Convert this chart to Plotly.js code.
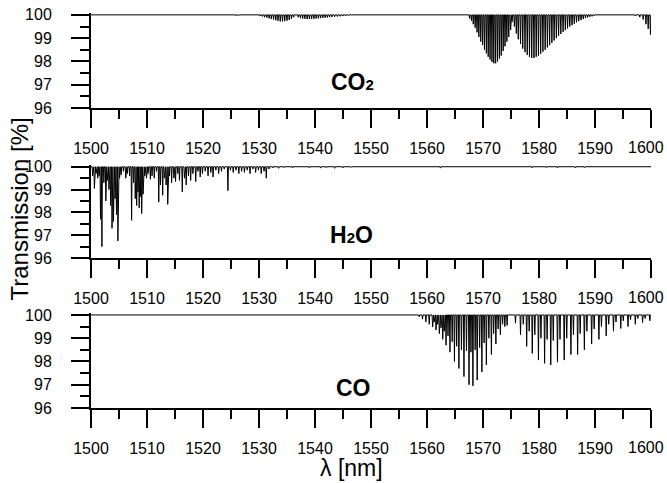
<!DOCTYPE html>
<html>
<head>
<meta charset="utf-8">
<script src="https://cdn.plot.ly/plotly-3.0.1.min.js"></script>
<style>html,body{margin:0;padding:0;background:#fff;}#chart{width:667px;height:483px;}</style>
</head>
<body>
<div id="chart"></div>
<script>
// ---- data (line centre wavelength in nm, transmission at line centre in %) ----
const co2Lambda = [1525.4,1525.9,1526.4,1527.0,
  1529.8,1530.2,1530.6,1531.0,1531.4,1531.8,1532.2,1532.6,1533.0,1533.4,1533.8,1534.2,1534.6,1535.0,1535.4,1535.8,1536.2,
  1537.0,1537.4,1537.8,1538.2,1538.6,1539.0,1539.4,1539.8,1540.2,1540.6,1541.0,1541.4,1541.8,1542.2,1542.6,1543.0,1543.5,1544.0,1544.5,1545.0,1545.5,1546.0,1546.6,
  1567.6,1567.93,1568.26,1568.6,1568.93,1569.26,1569.6,1569.93,1570.26,1570.6,1570.93,1571.26,1571.6,1571.93,1572.26,1572.6,1572.93,1573.26,1573.6,1573.93,1574.26,1574.6,1574.93,1575.2,
  1575.6,1575.95,1576.3,1576.7,1577.1,1577.5,1577.9,1578.3,1578.7,1579.1,1579.5,1579.9,1580.3,1580.7,1581.1,1581.5,1581.9,1582.3,1582.7,1583.1,1583.5,1583.9,1584.3,1584.7,1585.1,1585.5,1585.9,1586.3,1586.7,1587.1,1587.5,1587.9,1588.3,1588.7,1589.1,1589.5,1589.9,1590.3,
  1597.2,1598.0,1598.6,1599.1,1599.5,1599.9];
const co2T = [99.97,99.96,99.97,99.98,
  99.97,99.95,99.93,99.9,99.88,99.85,99.82,99.8,99.77,99.74,99.72,99.72,99.73,99.75,99.78,99.83,99.9,
  99.9,99.86,99.84,99.83,99.82,99.82,99.82,99.83,99.84,99.85,99.86,99.87,99.88,99.89,99.9,99.91,99.92,99.93,99.94,99.95,99.96,99.97,99.98,
  99.85,99.75,99.6,99.45,99.25,99.05,98.85,98.7,98.5,98.35,98.2,98.08,97.98,97.92,97.92,98.0,98.12,98.25,98.45,98.65,98.85,99.05,99.35,99.7,
  99.5,99.2,98.95,98.75,98.55,98.4,98.28,98.2,98.15,98.15,98.2,98.25,98.32,98.42,98.5,98.6,98.7,98.8,98.9,99.0,99.1,99.18,99.27,99.35,99.42,99.5,99.56,99.62,99.68,99.73,99.78,99.82,99.86,99.89,99.92,99.94,99.96,99.98,
  99.95,99.9,99.8,99.6,99.4,99.15];

const h2oLambda = [1500.3,1500.6,1500.9,1501.2,1501.45,1501.7,1501.95,1502.3,1502.65,1502.9,1503.2,1503.5,1503.75,1504.0,1504.3,1504.55,1504.8,
  1505.1,1505.4,1505.8,1506.2,1506.5,1506.9,1507.25,1507.6,1507.9,1508.15,1508.4,1508.6,1508.85,1509.05,1509.3,1509.6,1509.9,
  1510.2,1510.6,1510.9,1511.3,1511.7,1512.1,1512.4,1512.8,1513.1,1513.4,1513.7,1514.0,1514.4,1514.8,1515.1,1515.5,1515.8,
  1516.3,1516.7,1517.0,1517.4,1517.8,1518.2,1518.7,1519.1,1519.5,1519.9,1520.4,1520.9,1521.4,1521.8,1522.3,1522.8,1523.3,1523.8,
  1524.45,1524.9,1525.4,1525.9,1526.4,1526.9,1527.4,1527.9,1528.4,1528.9,1529.4,1529.9,1530.4,1530.9,1531.3,1531.8,
  1532.5,1533.5,1534.5,1536.0,1537.5,1539.0,1541.0,1542.0,1543.5,1545.0,1546.5,1548.0,1562.4,1578.8,1581.3,1583.3,1586.5,1588.1];
const h2oT = [99.6,99.05,99.7,99.5,99.6,97.7,96.5,99.3,98.5,99.4,99.0,98.3,97.3,97.6,98.6,97.9,96.75,
  99.5,99.65,99.8,99.5,99.7,99.6,97.65,99.3,98.6,98.3,98.9,98.2,98.7,97.95,98.8,99.6,99.5,
  99.7,99.45,99.6,99.5,99.8,98.45,99.2,98.75,99.5,99.2,98.35,99.6,99.3,99.5,99.35,99.7,99.4,
  98.9,99.5,99.2,99.6,99.4,99.7,99.35,99.8,99.55,99.7,99.8,99.6,99.75,99.55,99.85,99.7,99.8,99.9,
  98.95,99.85,99.75,99.85,99.7,99.8,99.75,99.85,99.7,99.9,99.75,99.85,99.7,99.8,99.5,99.9,
  99.95,99.93,99.96,99.95,99.97,99.95,99.94,99.96,99.93,99.95,99.97,99.98,99.94,99.95,99.96,99.95,99.95,99.96];

const coLambda = [1558.6,1559.2,1559.8,1560.4,1561.0,1561.6,1562.2,1562.8,1563.4,1564.1,1564.9,1565.7,1566.6,1567.5,1568.2,1568.96,1569.8,1570.6,1571.5,1572.3,1573.1,1573.9,
  1561.3,1561.9,1562.5,1563.1,1563.75,1564.5,1565.3,1566.15,1567.05,1567.85,1568.6,1569.4,1570.2,1571.05,1571.9,1572.7,1573.5,
  1574.3,1575.8,1576.7,1577.8,1578.8,1579.9,1581.0,1582.1,1583.3,1584.5,1585.7,1586.9,1588.1,1589.4,1590.7,1592.0,1593.3,1594.6,1595.9,1597.2,1598.5,1599.8,
  1577.2,1578.25,1579.25,1580.35,1581.45,1582.55,1583.75,1584.95,1586.15,1587.35,1588.55,1589.85,1591.15,1592.45,1593.75,1595.05,1596.35,1597.65,1598.95];
const coT = [99.92,99.82,99.7,99.6,99.48,99.35,99.2,98.95,98.7,98.4,98.0,97.7,97.35,97.0,96.95,97.2,97.55,97.85,98.3,98.75,99.15,99.5,
  99.7,99.6,99.45,99.3,99.1,98.85,98.65,98.5,98.45,98.4,98.5,98.6,98.8,99.0,99.2,99.4,99.6,
  99.55,99.65,99.15,98.65,98.35,98.06,97.92,97.85,97.97,98.06,98.3,98.3,98.5,98.75,98.95,99.1,99.3,99.42,99.5,99.6,99.67,99.75,
  99.6,99.3,99.15,99.0,98.95,98.9,98.95,99.0,99.15,99.2,99.3,99.4,99.5,99.6,99.7,99.75,99.8,99.85,99.85];

const xTickVals = [1500,1510,1520,1530,1540,1550,1560,1570,1580,1590,1600];
const xTickText = ["1500","1510","1520","1530","1540","1550","1560","1570","1580","1590","1600"];
const yTickVals = [96,97,98,99,100];
const molecules = [["CO","2",""],["H","2","O"],["CO","",""]];

// ---- build spike polylines from the line lists ----
const W = 0.09;
function spikes(lams, ts){
  const idx = lams.map((_, i) => i).sort((a, b) => lams[a] - lams[b]);
  const x = [xTickVals[0]], y = [100];
  idx.forEach(i => { x.push(lams[i] - W, lams[i], lams[i] + W); y.push(100, ts[i], 100); });
  x.push(xTickVals[xTickVals.length - 1]); y.push(100);
  return {x, y};
}
const s1 = spikes(co2Lambda, co2T), s2 = spikes(h2oLambda, h2oT), s3 = spikes(coLambda, coT);
const lineStyle = {color: '#000', width: 1};
const traces = [
  {x: s1.x, y: s1.y, xaxis: 'x', yaxis: 'y', mode: 'lines', line: lineStyle, hoverinfo: 'skip'},
  {x: s2.x, y: s2.y, xaxis: 'x2', yaxis: 'y2', mode: 'lines', line: lineStyle, hoverinfo: 'skip'},
  {x: s3.x, y: s3.y, xaxis: 'x3', yaxis: 'y3', mode: 'lines', line: lineStyle, hoverinfo: 'skip'}
];

const tickFont = {family: 'Liberation Sans, Arial, sans-serif', size: 16, color: '#000'};
const xStep = xTickVals[1] - xTickVals[0];
const yStep = yTickVals[1] - yTickVals[0];
const lastX = xTickVals.length - 1;
// last x label is drawn separately (nudged left so it stays inside the page, as in the reference)
const xTickTextShown = xTickText.map((t, i) => i === lastX ? '' : t);
function xax(anchor){
  return {anchor: anchor, range: [xTickVals[0], xTickVals[lastX]],
    tickmode: 'array', tickvals: xTickVals, ticktext: xTickTextShown,
    showline: true, linewidth: 2, linecolor: '#000', ticks: 'outside', ticklen: 18, tickwidth: 2, tickcolor: '#000',
    minor: {tickmode: 'linear', tick0: xTickVals[0], dtick: xStep / 2, ticks: 'outside', ticklen: 9, tickwidth: 2, tickcolor: '#000', showgrid: false},
    showgrid: false, zeroline: false, tickfont: tickFont, ticklabelstandoff: 7, fixedrange: true};
}
function yax(anchor, domain){
  return {anchor: anchor, domain: domain, range: [yTickVals[0], 100.08],
    tickmode: 'linear', tick0: yTickVals[0], dtick: yStep,
    showline: true, linewidth: 2, linecolor: '#000', ticks: 'outside', ticklen: 18, tickwidth: 2, tickcolor: '#000',
    minor: {tickmode: 'linear', tick0: yTickVals[0], dtick: yStep / 2, ticks: 'outside', ticklen: 9, tickwidth: 2, tickcolor: '#000', showgrid: false},
    showgrid: false, zeroline: false, tickfont: tickFont, ticklabelstandoff: 16, fixedrange: true};
}
function molText(m){
  return '<b>' + m[0] + (m[1] ? '<span style="font-size:15px">' + m[1] + '</span>' : '') + m[2] + '</b>';
}
const labFont = {family: 'Liberation Sans, Arial, sans-serif', size: 23, color: '#000', weight: 'bold'};
const lastLabel = (xr, yr) => ({text: xTickText[lastX], xref: xr, yref: yr, x: xTickVals[lastX], y: yTickVals[0],
  xanchor: 'right', yanchor: 'top', xshift: 15, yshift: -29, showarrow: false, font: tickFont});
const layout = {
  width: 667, height: 483,
  margin: {l: 91, r: 16, t: 13, b: 75},
  paper_bgcolor: '#fff', plot_bgcolor: '#fff',
  showlegend: false,
  xaxis: xax('y'), yaxis: yax('x', [0.7595, 1]),
  xaxis2: xax('y2'), yaxis2: yax('x2', [0.3797, 0.6154]),
  xaxis3: xax('y3'), yaxis3: yax('x3', [0, 0.2403]),
  annotations: [
    {text: molText(molecules[0]), xref: 'x', yref: 'y', x: 1546.7, y: 97.1, showarrow: false, font: labFont, xanchor: 'center', yanchor: 'middle'},
    {text: molText(molecules[1]), xref: 'x2', yref: 'y2', x: 1546.6, y: 97.03, showarrow: false, font: labFont, xanchor: 'center', yanchor: 'middle'},
    {text: molText(molecules[2]), xref: 'x3', yref: 'y3', x: 1546.8, y: 96.88, showarrow: false, font: labFont, xanchor: 'center', yanchor: 'middle'},
    lastLabel('x', 'y'), lastLabel('x2', 'y2'), lastLabel('x3', 'y3'),
    {text: 'Transmission [%]', xref: 'paper', yref: 'paper', x: -0.1268, y: 0.505, textangle: -90, showarrow: false,
      font: {family: 'Liberation Sans, Arial, sans-serif', size: 24, color: '#000'}, xanchor: 'center', yanchor: 'middle'},
    {text: 'λ [nm]', xref: 'paper', yref: 'paper', x: 0.466, y: -0.152, showarrow: false,
      font: {family: 'Liberation Sans, Arial, sans-serif', size: 23, color: '#000'}, xanchor: 'center', yanchor: 'middle'}
  ]
};
Plotly.newPlot('chart', traces, layout, {staticPlot: true, displayModeBar: false});
</script>
</body>
</html>
